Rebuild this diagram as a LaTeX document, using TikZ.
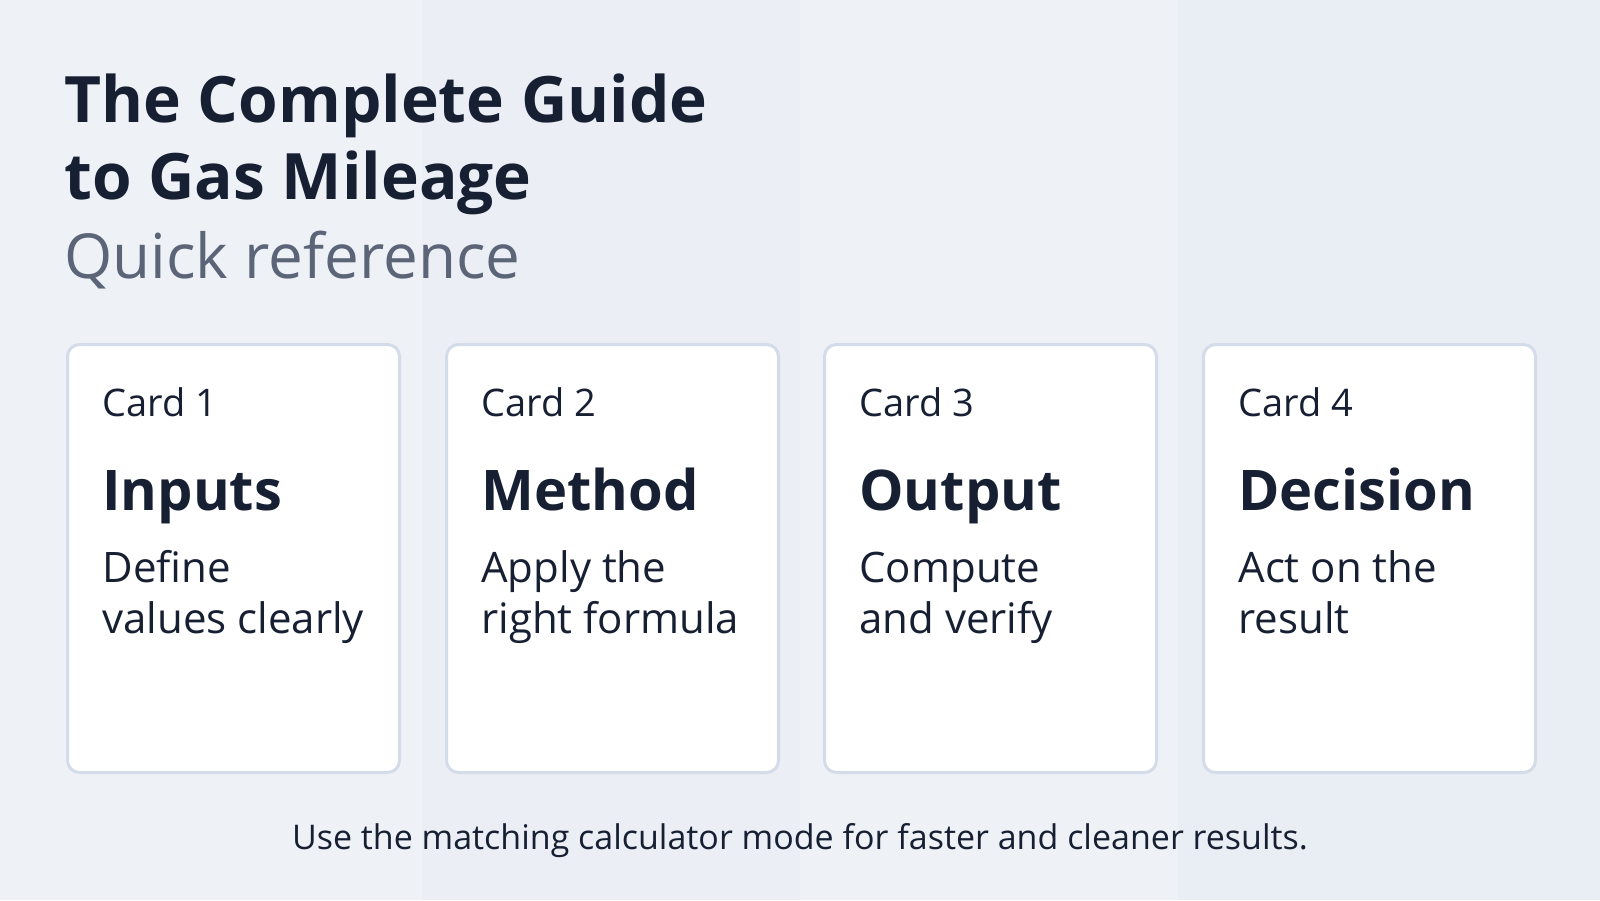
\documentclass[tikz,border=0pt]{standalone}
\usepackage{fontspec}
\setmainfont{Open Sans}
\definecolor{bg}{HTML}{EEF2F7}
\definecolor{band}{HTML}{E9EEF5}
\definecolor{ink}{HTML}{172033}
\definecolor{sub}{HTML}{5B6577}
\definecolor{cardline}{HTML}{D3DCE8}
\begin{document}
\begin{tikzpicture}[x=0.5pt,y=-0.5pt,
  card/.style={draw=cardline,line width=1.5pt,fill=white,rounded corners=6pt},
  lbl/.style={anchor=base west,inner sep=0,text=ink,font=\fontsize{19}{23}\selectfont},
  head/.style={anchor=base west,inner sep=0,text=ink,font=\fontsize{28}{34}\selectfont\bfseries},
  body/.style={anchor=base west,inner sep=0,text=ink,font=\fontsize{21}{25.5}\selectfont,align=left}]
\useasboundingbox (0,0) rectangle (1600,900);
\fill[bg] (0,0) rectangle (1600,900);
\fill[band,opacity=0.6] (422,0) rectangle (800,900);
\fill[band,opacity=0.9] (1178,0) rectangle (1600,900);
\node[anchor=base west,inner sep=0,text=ink,font=\fontsize{32}{38}\selectfont\bfseries] (t1) at (64,122) {The Complete Guide};
\node[anchor=base west,inner sep=0,text=ink,font=\fontsize{32}{38}\selectfont\bfseries] (t2) at (64,199) {to Gas Mileage};
\node[anchor=base west,inner sep=0,text=sub,font=\fontsize{31}{38}\selectfont] (t3) at (64,278) {Quick reference};
\foreach \i/\x/\h/\a/\b in {1/66/Inputs/Define/values clearly,2/445/Method/Apply the/right formula,3/823/Output/Compute/and verify,4/1202/Decision/Act on the/result}{
  \node[card,minimum width=166pt,minimum height=214pt,anchor=north west] (c\i) at (\x,343) {};
  \node[lbl] (l\i) at (\x+36,416) {Card \i};
  \node[head] (h\i) at (\x+36,510) {\h};
  \node[body] (a\i) at (\x+36,582) {\a};
  \node[body] (b\i) at (\x+36,633) {\b};
}
\node[anchor=base,inner sep=0,text=ink,font=\fontsize{17}{20}\selectfont] (foot) at (800,849) {Use the matching calculator mode for faster and cleaner results.};
\end{tikzpicture}
\end{document}
